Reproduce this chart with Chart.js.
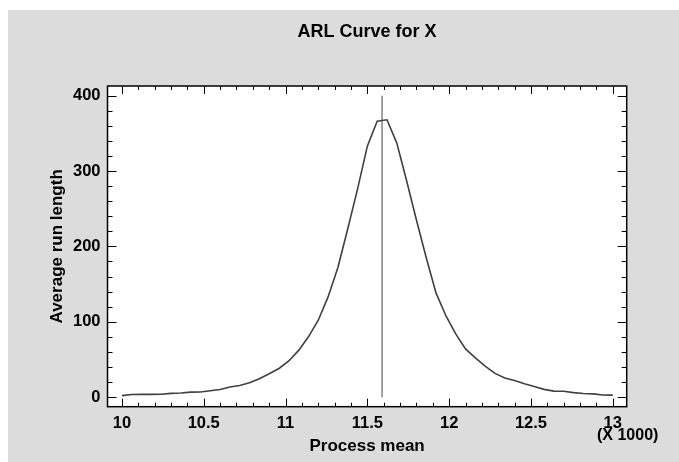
<!DOCTYPE html>
<html>
<head>
<meta charset="utf-8">
<script src="https://cdn.jsdelivr.net/npm/chart.js@4"></script>
<style>
  body { margin: 0; background: #fff; }
  canvas { display: block; }
</style>
</head>
<body>
<canvas id="arlChart" width="679" height="462"></canvas>
<script>
// ---- data ----
var processMean = [10.00, 10.06, 10.12, 10.18, 10.24, 10.30, 10.36, 10.42, 10.48, 10.54,
    10.60, 10.66, 10.72, 10.78, 10.84, 10.90, 10.96, 11.02, 11.08, 11.14,
    11.20, 11.26, 11.32, 11.38, 11.44, 11.50, 11.56, 11.62, 11.68, 11.74,
    11.80, 11.86, 11.92, 11.98, 12.04, 12.10, 12.16, 12.22, 12.28, 12.34,
    12.40, 12.46, 12.52, 12.58, 12.64, 12.70, 12.76, 12.82, 12.88, 12.94, 13.00];
var avgRunLength = [2, 3.5, 3.6, 3.7, 3.8, 5, 5.5, 6.6, 6.8, 8.4,
    10.2, 13.5, 15.5, 19, 24.5, 31, 38, 48, 62, 80,
    102, 133, 172, 223, 276, 333, 366, 368, 337, 287,
    235, 185, 138, 108, 84, 64, 52, 41, 31.5, 25.5,
    22, 17.8, 14, 10.3, 8, 7.8, 6, 4.8, 4.3, 2.8, 2.7];
var targetMean = [11.59, 11.59];
var targetRange = [0, 400];
var xTickValues = [10, 10.5, 11, 11.5, 12, 12.5, 13];
var yTickValues = [0, 100, 200, 300, 400];

var fontFamily = "'Liberation Sans', Arial, Helvetica, sans-serif";

var curvePoints = processMean.map(function (x, i) { return { x: x, y: avgRunLength[i] }; });
var targetPoints = targetMean.map(function (x, i) { return { x: x, y: targetRange[i] }; });

// background, frame, inner ticks and the free texts
var framePlugin = {
    id: 'frame',
    beforeDraw: function (chart) {
        var c = chart.ctx, a = chart.chartArea;
        c.save();
        c.fillStyle = '#ffffff';
        c.fillRect(0, 0, chart.width, chart.height);
        c.fillStyle = '#dcdcdc';
        c.fillRect(8, 10, chart.width - 8, chart.height - 10);
        c.fillStyle = '#ffffff';
        c.fillRect(a.left, a.top, a.right - a.left, a.bottom - a.top);
        c.restore();
    },
    afterDraw: function (chart) {
        var c = chart.ctx, a = chart.chartArea;
        var xs = chart.scales.x, ys = chart.scales.y;
        c.save();
        c.strokeStyle = '#000';
        c.lineWidth = 1;
        c.beginPath();
        // x ticks (bottom and top)
        for (var v = 10; v <= 13.0001; v += 0.1) {
            var px = Math.round(xs.getPixelForValue(v)) + 0.5;
            var major = Math.abs(v * 2 - Math.round(v * 2)) < 1e-6;
            var len = major ? 8 : 4;
            c.moveTo(px, a.bottom); c.lineTo(px, a.bottom - len);
            c.moveTo(px, a.top); c.lineTo(px, a.top + len);
        }
        // y ticks (left and right)
        for (var w = 0; w <= 400; w += 20) {
            var py = Math.round(ys.getPixelForValue(w)) + 0.5;
            var len2 = (w % 100 === 0) ? 9 : 5;
            c.moveTo(a.left, py); c.lineTo(a.left + len2, py);
            c.moveTo(a.right, py); c.lineTo(a.right - len2, py);
        }
        c.stroke();
        c.lineWidth = 1.5;
        c.strokeRect(a.left, a.top, a.right - a.left, a.bottom - a.top);

        c.fillStyle = '#000';
        c.textAlign = 'center';
        c.textBaseline = 'middle';
        c.font = 'bold 18px ' + fontFamily;
        c.fillText('ARL Curve for X', (a.left + a.right) / 2, 32);
        c.font = 'bold 16px ' + fontFamily;
        c.fillText('(X 1000)', a.right + 1, 436);
        c.restore();
    }
};

var ctx = document.getElementById('arlChart').getContext('2d');
var arlChart = new Chart(ctx, {
    type: 'line',
    data: {
        datasets: [{
            label: 'ARL',
            data: curvePoints,
            borderColor: '#404040',
            borderWidth: 1.6,
            pointRadius: 0,
            tension: 0,
            fill: false
        }, {
            label: 'Target',
            data: targetPoints,
            borderColor: '#8a8a8a',
            borderWidth: 1.6,
            pointRadius: 0,
            fill: false
        }]
    },
    options: {
        responsive: false,
        devicePixelRatio: 1,
        animation: false,
        layout: {
            padding: { top: 86, right: 52.3, left: 0, bottom: 0 }
        },
        plugins: {
            legend: { display: false },
            tooltip: { enabled: false },
            title: { display: false }
        },
        scales: {
            x: {
                type: 'linear',
                position: 'bottom',
                min: 9.912,
                max: 13.085,
                grid: { display: false, drawTicks: false },
                border: { display: false },
                afterBuildTicks: function (scale) {
                    scale.ticks = xTickValues.map(function (v) { return { value: v }; });
                },
                afterFit: function (scale) { scale.height = 55.3; },
                ticks: {
                    autoSkip: false,
                    maxRotation: 0,
                    padding: 7,
                    color: '#000',
                    font: { family: fontFamily, size: 16.5, weight: 'bold' },
                    callback: function (value) { return String(value); }
                },
                title: {
                    display: true,
                    text: 'Process mean',
                    color: '#000',
                    font: { family: fontFamily, size: 17, weight: 'bold' },
                    padding: { top: 0, bottom: 5 }
                }
            },
            y: {
                min: -12.7,
                max: 412.8,
                grid: { display: false, drawTicks: false },
                border: { display: false },
                afterBuildTicks: function (scale) {
                    scale.ticks = yTickValues.map(function (v) { return { value: v }; });
                },
                afterFit: function (scale) { scale.width = 107.5; },
                ticks: {
                    padding: 7,
                    color: '#000',
                    font: { family: fontFamily, size: 16.5, weight: 'bold' },
                    callback: function (value) { return String(value); }
                },
                title: {
                    display: true,
                    text: 'Average run length',
                    color: '#000',
                    font: { family: fontFamily, size: 17, weight: 'bold' },
                    padding: { top: 47, bottom: 0 }
                }
            }
        }
    },
    plugins: [framePlugin]
});
</script>
</body>
</html>
